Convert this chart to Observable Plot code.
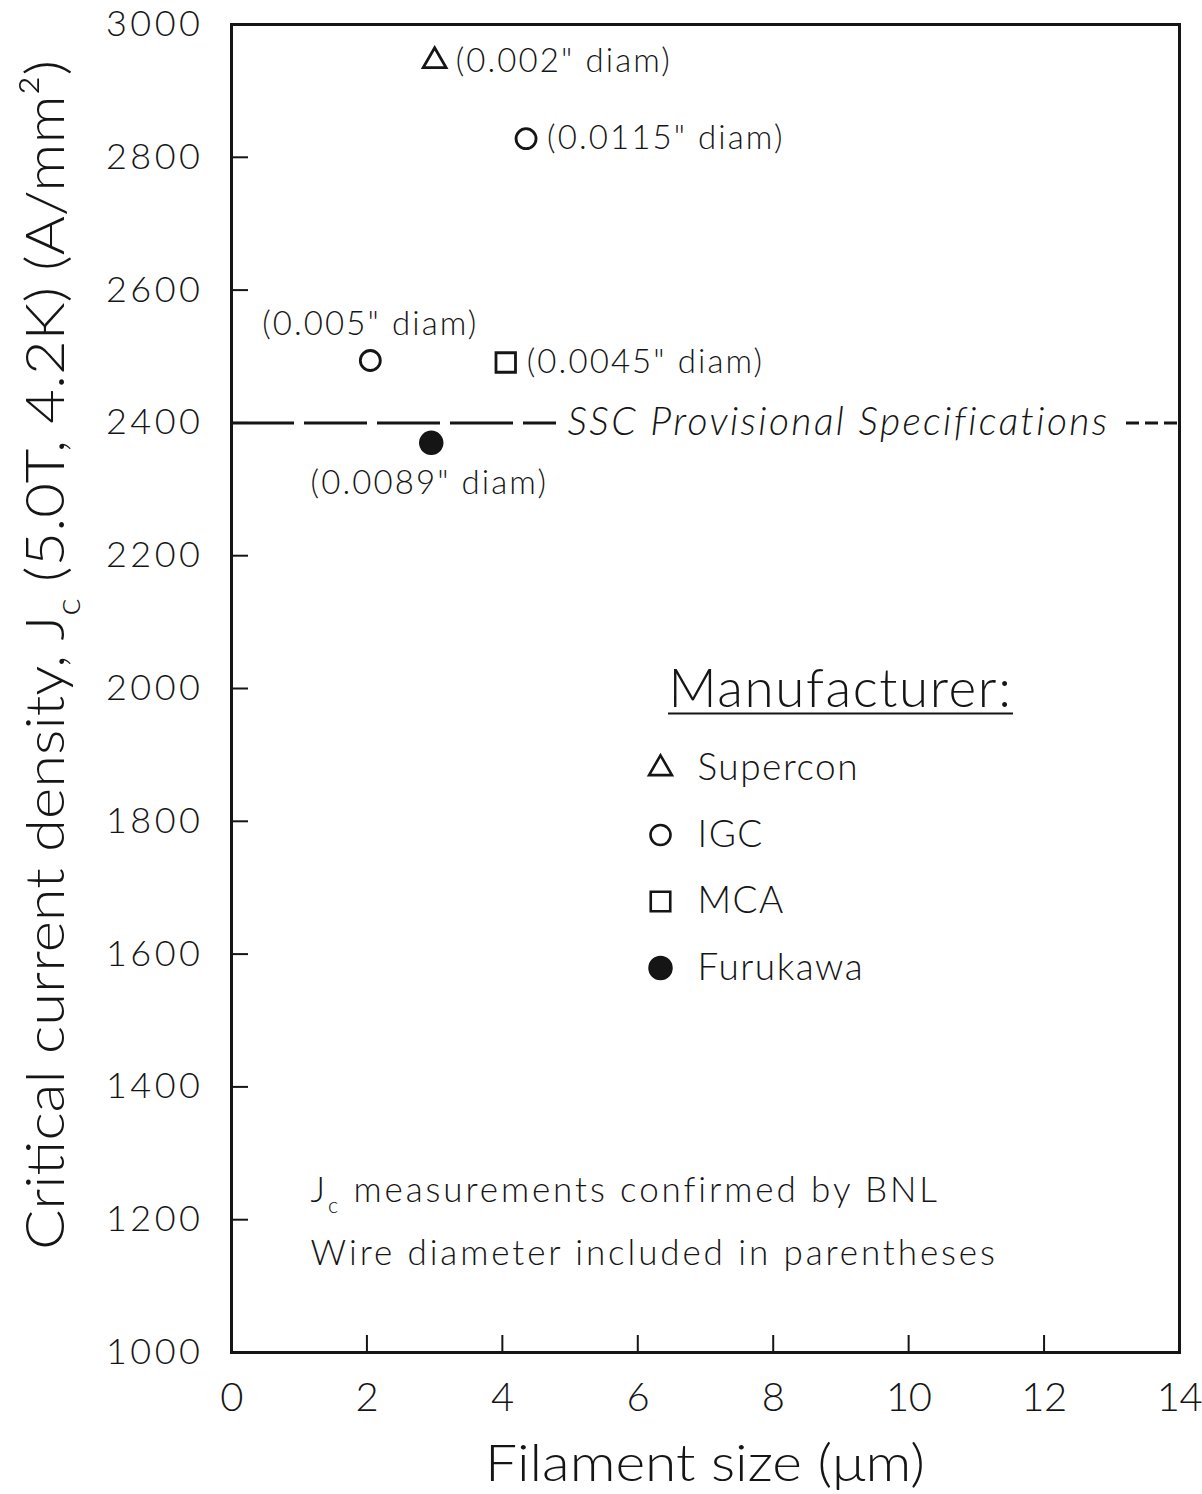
<!DOCTYPE html>
<html><head><meta charset="utf-8">
<script src="https://cdn.jsdelivr.net/npm/d3@7"></script>
<script src="https://cdn.jsdelivr.net/npm/@observablehq/plot@0.6"></script>
<style>
body{margin:0;background:#fff;}
svg{font-family:Lato, "Open Sans", sans-serif;}
</style>
</head><body><div id="chart"></div>
<script>
// ---- data ----
const manufacturers = ["Supercon", "IGC", "MCA", "Furukawa"];
const manufacturerSymbols = ["triangle", "circle", "square", "circle"];
const pointMaker = ["Supercon", "IGC", "IGC", "MCA", "Furukawa"];
const filamentSize = [3.0, 4.35, 2.05, 4.05, 2.95];
const jcValues = [2945, 2828, 2494, 2491, 2370];
const wireDiam = ["0.002", "0.0115", "0.005", "0.0045", "0.0089"];
const specLevel = 2400;
const specLabel = "SSC Provisional Specifications";
const xTicks = [0, 2, 4, 6, 8, 10, 12, 14];
const yTicks = [1000, 1200, 1400, 1600, 1800, 2000, 2200, 2400, 2600, 2800, 3000];
const notes = ["J_c measurements confirmed by BNL", "Wire diameter included in parentheses"];
const xLabel = "Filament size (\u03BCm)";
const yLabel = "Critical current density, J_c (5.0T, 4.2K) (A/mm\u00B2)";

// ---- layout ----
const W = 1202, H = 1494;
const mL = 231, mR = 23, mT = 24, mB = 142;
const xDom = [0, 14], yDom = [1000, 3000];
const pw = W - mL - mR, ph = H - mT - mB;
const px2x = p => xDom[0] + (p - mL) / pw * (xDom[1] - xDom[0]);
const py2y = p => yDom[1] - (p - mT) / ph * (yDom[1] - yDom[0]);

const points = pointMaker.map((m, i) => ({maker: m, x: filamentSize[i], y: jcValues[i],
  label: `(${wireDiam[i]}" diam)`, i}));
const symR = {triangle: 8.5, circle: 10, square: 11};
const sym = m => manufacturerSymbols[manufacturers.indexOf(m)];

const ink = "#151515";
const legendRows = manufacturers.map((m, i) => ({maker: m, y: py2y(768 + i * 66.5)}));

// font sizes (also used as keys for letter spacing)
const FS = {xtick: 40, ytick: 36, pt: 33, spec: 39, legT: 53, leg: 37, note: 35};
const LS = {40: -0.5, 36: 3.5, 33: 2.1, 39: 2.4, 53: 1.6, 37: 1.5, 35: 2.9};

const plot = Plot.plot({
  width: W, height: H,
  marginLeft: mL, marginRight: mR, marginTop: mT, marginBottom: mB,
  x: {domain: xDom},
  y: {domain: yDom},
  r: {type: "identity"},
  symbol: {domain: manufacturers, range: manufacturerSymbols},
  marks: [
    Plot.axisX(xTicks, {tickSize: 0, tickPadding: 30, fontSize: FS.xtick, fontWeight: 300, label: null, fill: ink, tickFormat: d => String(d)}),
    Plot.axisY(yTicks, {tickSize: 0, tickPadding: 28, fontSize: FS.ytick, fontWeight: 300, label: null, fill: ink, tickFormat: d => String(d)}),
    Plot.tickX(xTicks, {x: d => d, insetTop: ph - 17, stroke: ink, strokeWidth: 2}),
    Plot.tickY(yTicks, {y: d => d, insetRight: pw - 17, stroke: ink, strokeWidth: 2}),
    // spec line
    Plot.ruleY([specLevel], {x1: 0, x2: px2x(556), stroke: ink, strokeWidth: 3, strokeDasharray: "63,10"}),
    Plot.ruleY([specLevel], {x1: px2x(1126), x2: 14, stroke: ink, strokeWidth: 3, strokeDasharray: "13,6"}),
    Plot.text([specLevel], {x: px2x(567), y: d => d, text: () => specLabel, textAnchor: "start",
      fontStyle: "italic", fontSize: FS.spec, fontWeight: 300, fill: ink}),
    // open markers
    Plot.dot(points.filter(d => d.maker !== "Furukawa"), {x: "x", y: "y", symbol: "maker",
      r: d => symR[sym(d.maker)], fill: "none", stroke: ink, strokeWidth: 2.8}),
    // filled marker
    Plot.dot(points.filter(d => d.maker === "Furukawa"), {x: "x", y: "y", r: 11.5, fill: ink, stroke: ink}),
    // point labels
    Plot.text(points.filter(d => [0, 1, 3].includes(d.i)), {x: "x", y: "y", text: "label", textAnchor: "start",
      dx: 21, fontSize: FS.pt, fontWeight: 300, fill: ink}),
    Plot.text(points.filter(d => d.i === 2), {x: "x", y: "y", text: "label", dy: -36, fontSize: FS.pt, fontWeight: 300, fill: ink}),
    Plot.text(points.filter(d => d.i === 4), {x: "x", y: "y", text: "label", dy: 41, dx: -2, fontSize: FS.pt, fontWeight: 300, fill: ink}),
    // legend
    Plot.text(["Manufacturer:"], {x: px2x(668), y: py2y(690), text: d => d, textAnchor: "start", fontSize: FS.legT, fontWeight: 300, fill: ink}),
    Plot.ruleY([py2y(713)], {x1: px2x(668), x2: px2x(1013), stroke: ink, strokeWidth: 2}),
    Plot.dot(legendRows.filter(d => d.maker !== "Furukawa"), {x: px2x(660), y: "y", symbol: "maker",
      r: d => symR[sym(d.maker)], fill: "none", stroke: ink, strokeWidth: 2.6}),
    Plot.dot(legendRows.filter(d => d.maker === "Furukawa"), {x: px2x(660), y: "y", r: 11.5, fill: ink, stroke: ink}),
    Plot.text(legendRows, {x: px2x(697), y: "y", text: "maker", textAnchor: "start", fontSize: FS.leg, fontWeight: 300, fill: ink}),
    // notes
    Plot.text(notes, {x: px2x(310), y: (d, i) => py2y(1190 + i * 63), text: d => d, textAnchor: "start",
      fontSize: FS.note, fontWeight: 300, fill: ink}),
    Plot.frame({stroke: ink, strokeWidth: 3})
  ]
});

const svg = d3.select(plot);
// letter spacing per text group
svg.selectAll("g[font-size]").each(function() {
  const fs = +this.getAttribute("font-size");
  if (LS[fs] !== undefined) this.setAttribute("letter-spacing", LS[fs]);
});
// axis titles
svg.append("text").attr("class", "xlab")
  .attr("x", mL + pw / 2).attr("y", 1481).attr("text-anchor", "middle")
  .attr("font-size", 52).attr("font-weight", 300).attr("fill", ink).text(xLabel);
svg.append("text").attr("class", "ylab")
  .attr("transform", "translate(64,655) rotate(-90)").attr("text-anchor", "middle")
  .attr("font-size", 54).attr("font-weight", 300).attr("fill", ink).text(yLabel);

// subscript handling for J_c
function subscriptify(el, shift) {
  const s = el.textContent;
  if (!s.includes("J_c")) return;
  const parts = s.split("J_c");
  const t = d3.select(el); t.text(null);
  parts.forEach((p, k) => {
    if (k > 0) {
      t.append("tspan").text("J");
      t.append("tspan").attr("dy", shift).attr("font-size", "0.62em").text("c");
      t.append("tspan").attr("dy", -shift).text(p);
    } else t.append("tspan").text(p);
  });
}
svg.selectAll("text").each(function() {
  let fs = parseFloat(this.getAttribute("font-size"));
  if (!fs) fs = parseFloat(this.parentNode.getAttribute("font-size")) || 30;
  subscriptify(this, Math.round(fs * 0.3));
});
svg.select(".ylab").attr("textLength", 1190).attr("lengthAdjust", "spacingAndGlyphs");
svg.select(".xlab").attr("textLength", 440).attr("lengthAdjust", "spacingAndGlyphs");

document.getElementById("chart").appendChild(plot);
</script>
</body></html>
